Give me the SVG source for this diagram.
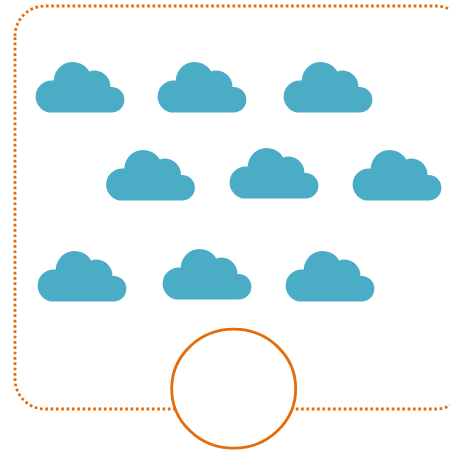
<svg xmlns="http://www.w3.org/2000/svg" width="450" height="450" viewBox="0 0 450 450">
<style>
.border{fill:#fff;stroke:#e46c0a;stroke-width:2.8;stroke-dasharray:2.7 2.63}
.hub{fill:#fff;stroke:#e46c0a;stroke-width:2.8}
.cloud{fill:#4bacc6}
</style>
<defs>
<g id="cloudShape" class="cloud">
<path d="M15.8 50.6 A16 16 0 0 1 15.8 18.6 L18 18.6 A19 19 0 0 1 53.5 9.5 A16 16 0 0 1 74.7 25 L75.8 25 A12.8 12.8 0 0 1 75.8 50.6 Z"/>
</g>
</defs>
<g id="boundary"><path class="border" d="M15 36 A30 30 0 0 1 45 6 H436 A30 30 0 0 1 466 36 V379 A30 30 0 0 1 436 409 H45 A30 30 0 0 1 15 379 Z"/></g>
<g id="cloud1"><use href="#cloudShape" x="35.8" y="62"/></g>
<g id="cloud2"><use href="#cloudShape" x="157.8" y="62"/></g>
<g id="cloud3"><use href="#cloudShape" x="283.8" y="62"/></g>
<g id="cloud4"><use href="#cloudShape" x="106.3" y="150"/></g>
<g id="cloud5"><use href="#cloudShape" x="229.8" y="148"/></g>
<g id="cloud6"><use href="#cloudShape" x="352.8" y="150"/></g>
<g id="cloud7"><use href="#cloudShape" x="37.8" y="251"/></g>
<g id="cloud8"><use href="#cloudShape" x="162.8" y="249"/></g>
<g id="cloud9"><use href="#cloudShape" x="285.8" y="251"/></g>
<g id="hub"><ellipse class="hub" cx="233.7" cy="388.7" rx="62" ry="59.5"/></g>
</svg>
